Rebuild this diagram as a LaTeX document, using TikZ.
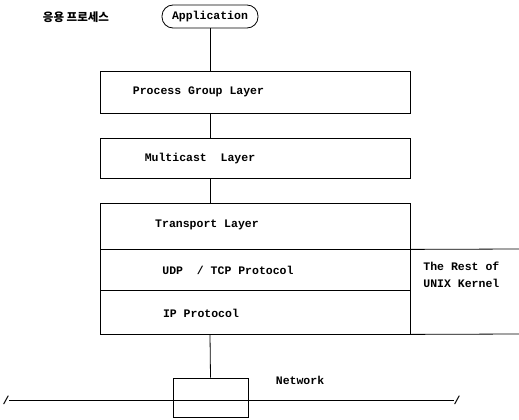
\documentclass[tikz,border=0pt]{standalone}
\usepackage{fontspec}
\setmonofont{Liberation Mono}
\newfontfamily\krfont{Noto Sans CJK KR}
\usetikzlibrary{positioning}

\begin{document}
\begin{tikzpicture}[x=1pt,y=-1pt,line width=0.8pt,
  layerbox/.style={draw,minimum width=310pt,inner sep=0pt},
  txt/.style={font=\ttfamily\bfseries\fontsize{11.5}{13}\selectfont,inner sep=0pt}]
\useasboundingbox (0,0) rectangle (519,420);
% application
\node[draw,rounded corners=11pt,minimum width=96pt,minimum height=23pt,txt] (app) at (210,16.5) {Application};
\node[font=\krfont\bfseries\fontsize{11.5}{13}\selectfont,inner sep=0pt] (kr) at (76,17) {응용 프로세스};
% layer boxes
\node[layerbox,minimum height=42pt] (pgl) at (255,92) {};
\node[layerbox,minimum height=40pt] (mcl) at (255,158) {};
\node[layerbox,minimum height=46pt] (tpl) at (255,226) {};
\node[layerbox,minimum height=41pt] (udp) at (255,269.5) {};
\node[layerbox,minimum height=44pt] (ip) at (255,312) {};
\node[txt] (pgltxt) at (198.5,92) {Process Group Layer};
\node[txt] (mcltxt) at (200,159) {Multicast~~Layer};
\node[txt] (tpltxt) at (207,225) {Transport Layer};
\node[txt] (udptxt) at (228,270) {UDP~~/ TCP Protocol};
\node[txt] (iptxt) at (201,313) {IP Protocol};
% rest of kernel
\coordinate (k1) at (519,249);
\coordinate (k2) at (519,334);
\draw (tpl.south east) -- (k1);
\draw (ip.south east) -- (k2);
\node[txt,align=left,anchor=west] (kern) at (423,275) {The Rest of\\[4pt]UNIX Kernel};
% network
\node[draw,minimum width=75pt,minimum height=39pt] (net) at (210.5,397.5) {};
\node[txt] (nettxt) at (300,380) {Network};
\coordinate (wl) at (9,400);
\coordinate (wr) at (454,400);
\draw (wl) -- (wr);
\node[txt] (sl) at (6,400) {/};
\node[txt] (sr) at (457,400) {/};
% connectors
\draw (app.south) -- (app.south |- pgl.north);
\draw (app.south |- pgl.south) -- (app.south |- mcl.north);
\draw (app.south |- mcl.south) -- (app.south |- tpl.north);
\draw (app.south |- ip.south) -- (net.north);
\end{tikzpicture}
\end{document}
